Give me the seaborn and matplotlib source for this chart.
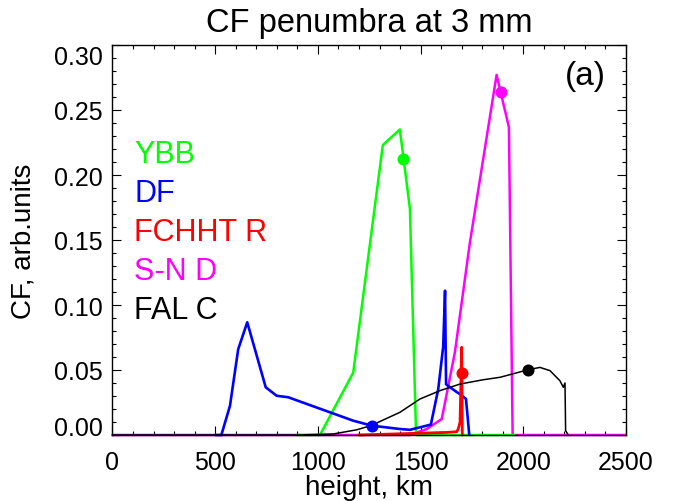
import matplotlib
matplotlib.use("Agg")
import matplotlib.pyplot as plt
import seaborn as sns
from matplotlib.ticker import MultipleLocator

# ---- data ----
ybb_h = [900, 1010, 1172, 1316, 1399, 1448, 1478, 1955]
ybb_cf = [0.0, 0.0, 0.048, 0.223, 0.235, 0.174, 0.0, 0.0]
ybb_mark = [1416, 0.212]

df_h = [500, 530, 572, 612, 656, 746, 799, 856, 1172, 1262, 1400, 1448,
        1550, 1586, 1610, 1619, 1624, 1676, 1691, 1721, 1737]
df_cf = [0.0, 0.0, 0.0225, 0.066, 0.0867, 0.0367, 0.0302, 0.029, 0.011, 0.0072,
         0.0046, 0.004, 0.008, 0.0354, 0.068, 0.111, 0.039, 0.033, 0.0315, 0.0277, 0.0]
df_mark = [1262, 0.0072]

fchht_h = [1200, 1627, 1676, 1683, 1692, 1700, 1703]
fchht_cf = [0.0, 0.002, 0.0025, 0.0046, 0.0098, 0.0675, 0.0]
fchht_mark = [1700, 0.0477]

snd_h = [0, 1448, 1530, 1603, 1667, 1740, 1870, 1930, 1948, 2500]
snd_cf = [0.0, 0.0, 0.0046, 0.0123, 0.0636, 0.148, 0.277, 0.2367, 0.0, 0.0]
snd_mark = [1890, 0.264]

fal_h = [0, 900, 1075, 1189, 1258, 1400, 1497, 1594, 1692, 1805, 1887, 2024,
         2081, 2130, 2178, 2195, 2203, 2206, 2219]
fal_cf = [0.0, 0.0, 0.0008, 0.004, 0.0072, 0.0175, 0.0277, 0.0341, 0.0392, 0.0425,
          0.0444, 0.0502, 0.052, 0.0495, 0.0418, 0.0367, 0.040, 0.0033, 0.0]
fal_mark = [2024, 0.0502]

labels = ["YBB", "DF", "FCHHT R", "S-N D", "FAL C"]
label_y = [0.21, 0.18, 0.15, 0.12, 0.09]
colors = ["#00ff00", "#0000ff", "#ff0000", "#ff00ff", "#000000"]

# ---- style ----
sns.set_theme(style="ticks")
plt.rcParams["font.family"] = ["Liberation Sans", "DejaVu Sans"]

fig = plt.figure(figsize=(6.73, 5.02), dpi=100)
ax = fig.add_axes([112.5 / 673, 1 - 436 / 502, 513.5 / 673, 390 / 502])

series = {
    "YBB": (ybb_h, ybb_cf, ybb_mark, colors[0], 1.8),
    "DF": (df_h, df_cf, df_mark, colors[1], 1.9),
    "FCHHT R": (fchht_h, fchht_cf, fchht_mark, colors[2], 2.0),
    "S-N D": (snd_h, snd_cf, snd_mark, colors[3], 1.8),
    "FAL C": (fal_h, fal_cf, fal_mark, colors[4], 1.1),
}
order = ["S-N D", "YBB", "DF", "FCHHT R", "FAL C"]
for name in order:
    h, cf, mk, col, lw = series[name]
    sns.lineplot(x=h, y=cf, ax=ax, color=col, lw=lw, estimator=None, sort=False,
                 clip_on=False)
    sns.scatterplot(x=[mk[0]], y=[mk[1]], ax=ax, color=col, s=75, edgecolor=col,
                    linewidth=0, zorder=5, clip_on=False)

for name, ly, col in zip(labels, label_y, colors):
    ax.text(105, ly, name, color=col, fontsize=22, ha="left", va="baseline")

ax.text(2200, 0.27, "(a)", color="black", fontsize=24, ha="left", va="baseline")

ax.set_xlim(0, 2500)
ax.set_ylim(0, 0.30)
ax.xaxis.set_major_locator(MultipleLocator(500))
ax.xaxis.set_minor_locator(MultipleLocator(100))
ax.yaxis.set_major_locator(MultipleLocator(0.05))
ax.yaxis.set_minor_locator(MultipleLocator(0.01))
ax.set_xticks([0, 500, 1000, 1500, 2000, 2500])
ax.set_xticklabels(["0", "500", "1000", "1500", "2000", "2500"])
ax.set_yticks([0, 0.05, 0.10, 0.15, 0.20, 0.25, 0.30])
ax.set_yticklabels(["0.00", "0.05", "0.10", "0.15", "0.20", "0.25", "0.30"])

ax.tick_params(which="both", direction="in", top=True, right=True,
               colors="black", width=0.8)
ax.tick_params(which="major", length=6.5)
ax.tick_params(which="minor", length=3.2)
ax.tick_params(axis="x", which="major", labelsize=18, pad=11)
ax.tick_params(axis="y", which="major", labelsize=18, pad=7)
for sp in ax.spines.values():
    sp.set_color("black")
    sp.set_linewidth(1.0)

ax.set_title("CF penumbra at 3 mm", fontsize=23.5, pad=10.4, color="black")
ax.set_xlabel("height, km", fontsize=20, va="center", color="black")
ax.xaxis.set_label_coords(0.5, -(488 - 436) / 390)
ax.set_ylabel("CF, arb.units", fontsize=20, va="center", color="black")
ax.yaxis.set_label_coords(-(112.5 - 24) / 513.5, 0.5)

# end labels kept inside the axis range, as in the reference
yt = ax.yaxis.get_major_ticks()
yt[0].label1.set_va("baseline")
yt[-1].label1.set_va("top")

fig.savefig("out.png", dpi=100, facecolor="white")
